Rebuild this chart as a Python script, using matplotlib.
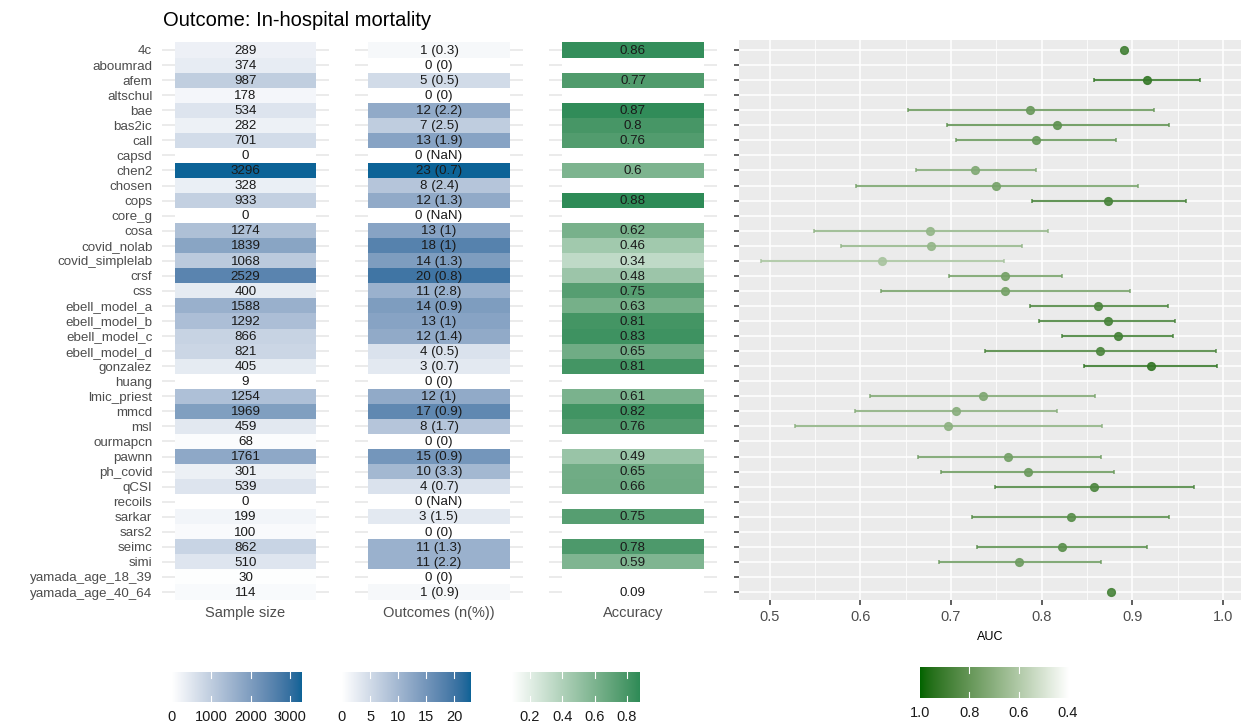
import numpy as np
import matplotlib
matplotlib.use("Agg")
import matplotlib.pyplot as plt
from matplotlib.colors import LinearSegmentedColormap, to_rgb

plt.rcParams['font.family'] = ['Liberation Sans', 'DejaVu Sans']

# data

models = ["4c", "aboumrad", "afem", "altschul", "bae", "bas2ic", "call", "capsd", "chen2",
          "chosen", "cops", "core_g", "cosa", "covid_nolab", "covid_simplelab", "crsf", "css",
          "ebell_model_a", "ebell_model_b", "ebell_model_c", "ebell_model_d", "gonzalez",
          "huang", "lmic_priest", "mmcd", "msl", "ourmapcn", "pawnn", "ph_covid", "qCSI",
          "recoils", "sarkar", "sars2", "seimc", "simi", "yamada_age_18_39", "yamada_age_40_64"]

sample_size = [289, 374, 987, 178, 534, 282, 701, 0, 3296, 328, 933, 0, 1274, 1839, 1068, 2529,
               400, 1588, 1292, 866, 821, 405, 9, 1254, 1969, 459, 68, 1761, 301, 539, 0, 199,
               100, 862, 510, 30, 114]

outcomes_n = [1, 0, 5, 0, 12, 7, 13, 0, 23, 8, 12, 0, 13, 18, 14, 20, 11, 14, 13, 12, 4, 3, 0,
              12, 17, 8, 0, 15, 10, 4, 0, 3, 0, 11, 11, 0, 1]

outcomes_pct = ["0.3", "0", "0.5", "0", "2.2", "2.5", "1.9", "NaN", "0.7", "2.4", "1.3", "NaN",
                "1", "1", "1.3", "0.8", "2.8", "0.9", "1", "1.4", "0.5", "0.7", "0", "1", "0.9",
                "1.7", "0", "0.9", "3.3", "0.7", "NaN", "1.5", "0", "1.3", "2.2", "0", "0.9"]

nan = np.nan
accuracy = [0.86, nan, 0.77, nan, 0.87, 0.8, 0.76, nan, 0.6, nan, 0.88, nan, 0.62, 0.46, 0.34,
            0.48, 0.75, 0.63, 0.81, 0.83, 0.65, 0.81, nan, 0.61, 0.82, 0.76, nan, 0.49, 0.65,
            0.66, nan, 0.75, nan, 0.78, 0.59, nan, 0.09]

auc = [0.891, nan, 0.916, nan, 0.787, 0.817, 0.794, nan, 0.726, 0.750, 0.873, nan, 0.677, 0.678,
       0.624, 0.760, 0.760, 0.862, 0.873, 0.884, 0.864, 0.921, nan, 0.735, 0.705, 0.697, nan,
       0.763, 0.785, 0.858, nan, 0.832, nan, 0.822, 0.775, nan, 0.876]

auc_lo = [nan, nan, 0.858, nan, 0.652, 0.696, 0.706, nan, 0.661, 0.595, 0.789, nan, 0.549, 0.579,
          0.490, 0.698, 0.623, 0.787, 0.797, 0.823, 0.738, 0.847, nan, 0.611, 0.594, 0.528, nan,
          0.663, 0.689, 0.749, nan, 0.723, nan, 0.729, 0.687, nan, nan]

auc_hi = [nan, nan, 0.975, nan, 0.924, 0.940, 0.882, nan, 0.794, 0.906, 0.959, nan, 0.807, 0.778,
          0.758, 0.823, 0.897, 0.939, 0.947, 0.945, 0.992, 0.993, nan, 0.859, 0.817, 0.867, nan,
          0.865, 0.880, 0.968, nan, 0.941, nan, 0.916, 0.865, nan, nan]

W, H = 1246, 727
GRID_GREY = "#e6e6e6"
TEXT_GREY = "#4d4d4d"

# ggplot style gradients are interpolated in CIELAB

M = np.array([[0.4124, 0.3576, 0.1805], [0.2126, 0.7152, 0.0722], [0.0193, 0.1192, 0.9505]])
WHITE_PT = np.array([0.95047, 1.0, 1.08883])


def srgb_to_lab(c):
    c = np.asarray(c, float)
    lin = np.where(c <= 0.04045, c / 12.92, ((c + 0.055) / 1.055) ** 2.4)
    xyz = M @ lin / WHITE_PT
    f = np.where(xyz > 0.008856, np.cbrt(xyz), 7.787 * xyz + 16 / 116)
    return np.array([116 * f[1] - 16, 500 * (f[0] - f[1]), 200 * (f[1] - f[2])])


def lab_to_srgb(lab):
    fy = (lab[0] + 16) / 116
    f = np.array([fy + lab[1] / 500, fy, fy - lab[2] / 200])
    xyz = np.where(f ** 3 > 0.008856, f ** 3, (f - 16 / 116) / 7.787) * WHITE_PT
    lin = np.linalg.inv(M) @ xyz
    c = np.where(lin <= 0.0031308, 12.92 * lin, 1.055 * np.clip(lin, 0, None) ** (1 / 2.4) - 0.055)
    return np.clip(c, 0, 1)


def lab_cmap(low, high, n=128):
    a, b = srgb_to_lab(to_rgb(low)), srgb_to_lab(to_rgb(high))
    cols = [lab_to_srgb(a + (b - a) * t) for t in np.linspace(0, 1, n)]
    return LinearSegmentedColormap.from_list("grad", cols)


blues = lab_cmap("white", "#0c6397")
greens = lab_cmap("white", "#2e8b57")
auc_cmap = lab_cmap("white", "#006400")


def px_axes(fig, x0, y0, x1, y1):
    return fig.add_axes([x0 / W, 1 - y1 / H, (x1 - x0) / W, (y1 - y0) / H])


def tile_panel(ax, values, labels, cmap, vmin, vmax, name):
    y = np.arange(len(values))
    vals = np.asarray(values, float)
    cols = ["white" if np.isnan(v) else cmap((v - vmin) / (vmax - vmin)) for v in vals]
    for yy in y:
        ax.axhline(yy, color=GRID_GREY, lw=1.1, zorder=0)
    ax.barh(y, 1.0, left=0.0, height=1.0, color=cols, edgecolor="none", zorder=1)
    for yy, lab in zip(y, labels):
        ax.text(0.5, yy + 0.05, lab, ha="center", va="center", fontsize=9.6, color="#1a1a1a", zorder=2)
    ax.set_xlim(-0.093, 1.093)
    ax.set_ylim(36.53, -0.664)
    ax.set_xticks([0.5])
    ax.set_xticklabels([name], fontsize=10.5, color=TEXT_GREY)
    ax.tick_params(axis="x", length=0, pad=4)
    ax.set_yticks(y)
    ax.set_yticklabels([])
    ax.tick_params(axis="y", length=0)
    for s in ax.spines.values():
        s.set_visible(False)


def colorbar(fig, box, cmap, vmin, vmax, ticks, ticklabels, reverse=False):
    ax = px_axes(fig, *box)
    grad = np.linspace(vmin, vmax, 256)[None, :]
    ax.imshow(grad, extent=[vmin, vmax, 0, 1], aspect="auto", cmap=cmap, vmin=vmin, vmax=vmax)
    for t in ticks:
        if vmin < t < vmax:
            ax.plot([t, t], [0, 0.2], color="white", lw=0.8)
            ax.plot([t, t], [0.8, 1], color="white", lw=0.8)
    if reverse:
        ax.set_xlim(vmax, vmin)
    else:
        ax.set_xlim(vmin, vmax)
    ax.set_ylim(0, 1)
    ax.set_yticks([])
    ax.set_xticks(ticks)
    ax.set_xticklabels(ticklabels, fontsize=10.5, color="#1a1a1a")
    ax.tick_params(axis="x", length=0, pad=6)
    for s in ax.spines.values():
        s.set_visible(False)
    return ax


fig = plt.figure(figsize=(W / 100, H / 100), dpi=100)

fig.text(163 / W, 1 - 20 / H, "Outcome: In-hospital mortality", fontsize=14.5, va="center", ha="left")

ax1 = px_axes(fig, 162, 40, 329, 600)
tile_panel(ax1, sample_size, [str(v) for v in sample_size], blues, 0, 3296, "Sample size")
ax1.set_yticklabels(models, fontsize=9.6, color=TEXT_GREY)
ax1.tick_params(axis="y", pad=7)

ax2 = px_axes(fig, 355, 40, 523, 600)
out_labels = [f"{n} ({p})" for n, p in zip(outcomes_n, outcomes_pct)]
tile_panel(ax2, outcomes_n, out_labels, blues, 0, 23, "Outcomes (n(%))")

ax3 = px_axes(fig, 549, 40, 717, 600)
acc_labels = ["" if np.isnan(a) else f"{a:g}" for a in accuracy]
tile_panel(ax3, accuracy, acc_labels, greens, 0.09, 0.88, "Accuracy")

# forest plot of AUC

ax4 = px_axes(fig, 739, 40, 1241, 600)
ax4.set_facecolor("#ebebeb")
ax4.set_xlim(0.466, 1.02)
ax4.set_ylim(36.53, -0.664)
ax4.set_xticks([0.5, 0.6, 0.7, 0.8, 0.9, 1.0])
ax4.set_xticklabels(["0.5", "0.6", "0.7", "0.8", "0.9", "1.0"], fontsize=10.5, color=TEXT_GREY)
ax4.set_xticks(np.arange(0.55, 1.0, 0.1), minor=True)
ax4.set_yticks(np.arange(len(models)))
ax4.set_yticklabels([])
ax4.tick_params(axis="both", which="major", length=3.5, width=1.1, color="#333333")
ax4.tick_params(axis="x", which="minor", length=0)
ax4.grid(which="major", color="white", lw=1.1)
ax4.grid(which="minor", axis="x", color="white", lw=0.55)
ax4.set_axisbelow(True)
for s in ax4.spines.values():
    s.set_visible(False)
ax4.set_xlabel("AUC", fontsize=9, labelpad=5)

for i in range(len(models)):
    if np.isnan(auc[i]):
        continue
    col = auc_cmap((auc[i] - 0.4) / 0.6)
    if not np.isnan(auc_lo[i]):
        ax4.errorbar(auc[i], i, xerr=[[auc[i] - auc_lo[i]], [auc_hi[i] - auc[i]]], fmt="none",
                     ecolor=col, elinewidth=1.5, capsize=1.6, capthick=1.2, alpha=0.85, zorder=2)
    ax4.plot(auc[i], i, "o", color=col, markersize=5.6, alpha=0.9, zorder=3)

# legends

colorbar(fig, (172, 672, 302, 702), blues, 0, 3296, [0, 1000, 2000, 3000], ["0", "1000", "2000", "3000"])
colorbar(fig, (342, 672, 471, 702), blues, 0, 23, [0, 5, 10, 15, 20], ["0", "5", "10", "15", "20"])
colorbar(fig, (512, 672, 640, 702), greens, 0.09, 0.88, [0.2, 0.4, 0.6, 0.8], ["0.2", "0.4", "0.6", "0.8"])
colorbar(fig, (920, 667, 1068, 698), auc_cmap, 0.4, 1.0, [1.0, 0.8, 0.6, 0.4], ["1.0", "0.8", "0.6", "0.4"],
         reverse=True)

fig.savefig("out.png", dpi=100)
